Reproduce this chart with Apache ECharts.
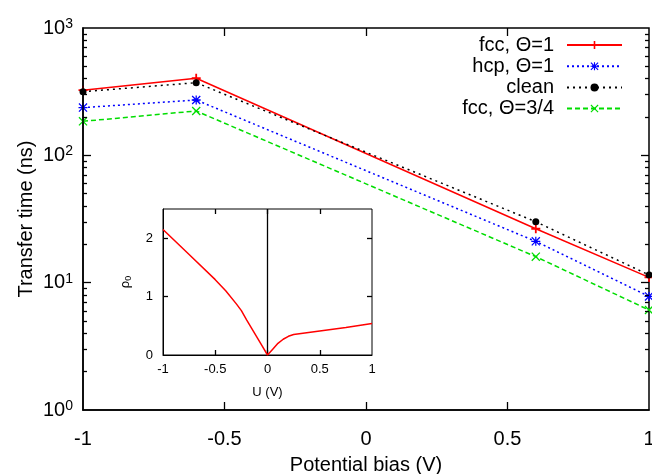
<!DOCTYPE html>
<html><head><meta charset="utf-8">
<script src="https://cdn.jsdelivr.net/npm/echarts@6/dist/echarts.min.js"></script>
<style>html,body{margin:0;padding:0;background:#fff}#c{width:652px;height:474px}</style>
</head><body><div id="c"></div>
<script>
// ---- data ----
const biasX = [-1, -0.6, 0.6, 1];
const fcc1 = [325, 403, 26.5, 11.0];
const hcp1 = [237, 272, 21.1, 7.8];
const clean = [316, 372, 30.1, 11.5];
const fcc34 = [185, 223, 16.0, 6.1];
const seriesNames = ['fcc, Θ=1', 'hcp, Θ=1', 'clean', 'fcc, Θ=3/4'];
const xTickLabels = ['-1', '-0.5', '0', '0.5', '1'];
const xMajorTicks = [-0.5, 0, 0.5];
const yMajorTicks = [10, 100];
const minorTickValues = [2,3,4,5,6,7,8,9,20,30,40,50,60,70,80,90,200,300,400,500,600,700,800,900];
const insetXTicks = [-0.5, 0, 0.5];
const insetYTicks = [1, 2];
const insetU = [-1, -0.75, -0.5, -0.4, -0.3, -0.25, -0.2, -0.15, -0.1, -0.05, 0, 0.05, 0.1, 0.15, 0.2, 0.25, 0.5, 0.75, 1];
const insetRho = [2.15, 1.72, 1.29, 1.1, 0.88, 0.76, 0.6, 0.45, 0.3, 0.15, 0, 0.1, 0.2, 0.27, 0.32, 0.35, 0.41, 0.47, 0.54];

const FONT = 'Liberation Sans';
const plusPath = 'path://M4,0H6V4H10V6H6V10H4V6H0V4H4Z';
const crossPath = 'path://M0,1L1,0L10,9L9,10ZM9,0L10,1L1,10L0,9Z';
const starPath = 'path://M4.3,0H5.7V4.3H10V5.7H5.7V10H4.3V5.7H0V4.3H4.3ZM0,1L1,0L10,9L9,10ZM9,0L10,1L1,10L0,9Z';

// layout
const W = 652, H = 474;
const G0 = {left:83, right:3, top:28, bottom:64};
const G1 = {left:163, right:280, top:209, bottom:119};
const g0w = W - G0.left - G0.right, g0h = H - G0.top - G0.bottom;
const g1w = W - G1.left - G1.right, g1h = H - G1.top - G1.bottom;

function pairs(xs, ys){ return xs.map((x,i)=>[x, ys[i]]); }
const xLab = v => { const k = Math.round(v*10)/10; const i = [-1,-0.5,0,0.5,1].indexOf(k); return i >= 0 ? xTickLabels[i] : ''; };
const seg = (a, b) => [{coord:a}, {coord:b}];

// tick segments expressed through the axes' own scales (pixel length -> data units)
const mainDx = len => len * 2 / g0w;
const mainFy = len => Math.pow(10, len * 3 / g0h);
const mainTicks = [];
xMajorTicks.forEach(v => { mainTicks.push(seg([v, 1], [v, mainFy(8)])); mainTicks.push(seg([v, 1000], [v, 1000 / mainFy(8)])); });
yMajorTicks.forEach(v => { mainTicks.push(seg([-1, v], [-1 + mainDx(8), v])); mainTicks.push(seg([1, v], [1 - mainDx(8), v])); });
minorTickValues.forEach(v => { mainTicks.push(seg([-1, v], [-1 + mainDx(4), v])); mainTicks.push(seg([1, v], [1 - mainDx(4), v])); });
const inDx = len => len * 2 / g1w, inDy = len => len * 2.5 / g1h;
const insetTicks = [];
insetXTicks.forEach(v => { insetTicks.push(seg([v, 0], [v, inDy(5)])); insetTicks.push(seg([v, 2.5], [v, 2.5 - inDy(5)])); });
insetYTicks.forEach(v => { insetTicks.push(seg([-1, v], [-1 + inDx(5), v])); insetTicks.push(seg([1, v], [1 - inDx(5), v])); });
insetTicks.push(seg([0, 0], [0, 2.5]));

const chart = echarts.init(document.getElementById('c'), null, {renderer:'canvas'});
const mainLine = (name, data, color, type, symbol, size) => ({
  name, type:'line', xAxisIndex:0, yAxisIndex:0, data: pairs(biasX, data),
  lineStyle:{color, width:1.5, type}, itemStyle:{color},
  symbol, symbolSize:size, showSymbol:true, z:2, animation:false
});
const axLine = (w) => ({show:true, onZero:false, lineStyle:{color:'#000', width:w}});
const noTick = {show:false};
const tickMarkLine = (data) => ({silent:true, symbol:'none', animation:false, label:{show:false},
  lineStyle:{color:'#000', type:'solid', width:1.3}, emphasis:{disabled:true}, data});

const s0 = mainLine(seriesNames[0], fcc1, '#ff0000', 'solid', plusPath, 9);
s0.markLine = tickMarkLine(mainTicks);

const option = {
  animation:false,
  textStyle:{fontFamily:FONT},
  grid:[
    Object.assign({show:true, borderColor:'#000', borderWidth:1.5, backgroundColor:'transparent', outerBoundsMode:'none', containLabel:false}, G0),
    Object.assign({show:true, backgroundColor:'#fff', borderColor:'#000', borderWidth:1, z:5, outerBoundsMode:'none', containLabel:false}, G1)
  ],
  legend:{
    data: seriesNames, orient:'vertical', right:29, top:35, align:'right', padding:0,
    itemWidth:55, itemHeight:10, itemGap:1.2,
    textStyle:{fontFamily:FONT, fontSize:20, color:'#000', width:170, align:'right', lineHeight:20, padding:[0,8,0,0]},
    selectedMode:false
  },
  xAxis:[
    {gridIndex:0, type:'value', min:-1, max:1, interval:0.5, position:'bottom', z:4,
     axisLine:axLine(1.5), axisTick:noTick,
     axisLabel:{formatter:xLab, fontSize:20, color:'#000', margin:19, fontFamily:FONT},
     splitLine:{show:false},
     name:'Potential bias (V)', nameLocation:'middle', nameGap:45, nameMoveOverlap:false,
     nameTextStyle:{fontSize:20, color:'#000', fontFamily:FONT}},
    {gridIndex:1, type:'value', min:-1, max:1, interval:0.5, position:'bottom', z:6,
     axisLine:axLine(1), axisTick:noTick,
     axisLabel:{formatter:xLab, fontSize:13, color:'#000', margin:8, fontFamily:FONT},
     splitLine:{show:false},
     name:'U (V)', nameLocation:'middle', nameGap:31, nameMoveOverlap:false,
     nameTextStyle:{fontSize:13, color:'#000', fontFamily:FONT}}
  ],
  yAxis:[
    {gridIndex:0, type:'log', logBase:10, min:1, max:1000, position:'left', z:4,
     axisLine:axLine(1.5), axisTick:noTick,
     minorTick:{show:false}, splitLine:{show:false},
     axisLabel:{margin:10, color:'#000', fontFamily:FONT,
       formatter: v => '{b|10}{s|' + Math.round(Math.log10(v)) + '}',
       rich:{b:{fontSize:20, fontFamily:FONT, color:'#000', lineHeight:22}, s:{fontSize:14, fontFamily:FONT, color:'#000', verticalAlign:'top', lineHeight:14, padding:[0,0,10,0]}}},
     name:'Transfer time (ns)', nameLocation:'middle', nameGap:47, nameRotate:90, nameMoveOverlap:false,
     nameTextStyle:{fontSize:20, color:'#000', fontFamily:FONT}},
    {gridIndex:1, type:'value', min:0, max:2.5, interval:1, position:'left', z:6,
     axisLine:axLine(1), axisTick:noTick,
     axisLabel:{fontSize:13, color:'#000', margin:10, fontFamily:FONT, showMaxLabel:false,
       formatter: v => (Math.abs(v - Math.round(v)) < 1e-9 ? String(Math.round(v)) : '')},
     splitLine:{show:false},
     name:'{a|ρ}{b|0}', nameLocation:'middle', nameGap:30, nameRotate:90, nameMoveOverlap:false,
     nameTextStyle:{color:'#000', fontFamily:FONT, rich:{a:{fontSize:13, fontFamily:FONT, color:'#000'}, b:{fontSize:9, fontFamily:FONT, color:'#000', verticalAlign:'bottom', padding:[6,0,0,0]}}}}
  ],
  series:[
    s0,
    mainLine(seriesNames[1], hcp1, '#0000ff', [2,3], starPath, 9),
    mainLine(seriesNames[2], clean, '#000000', [2,4], 'circle', 7),
    mainLine(seriesNames[3], fcc34, '#00dd00', [5,3], crossPath, 9),
    {type:'line', xAxisIndex:1, yAxisIndex:1, data: pairs(insetU, insetRho), showSymbol:false, symbol:'none',
     lineStyle:{color:'#ff0000', width:1.5}, z:7, markLine: tickMarkLine(insetTicks)}
  ]
};
chart.setOption(option);
</script></body></html>
